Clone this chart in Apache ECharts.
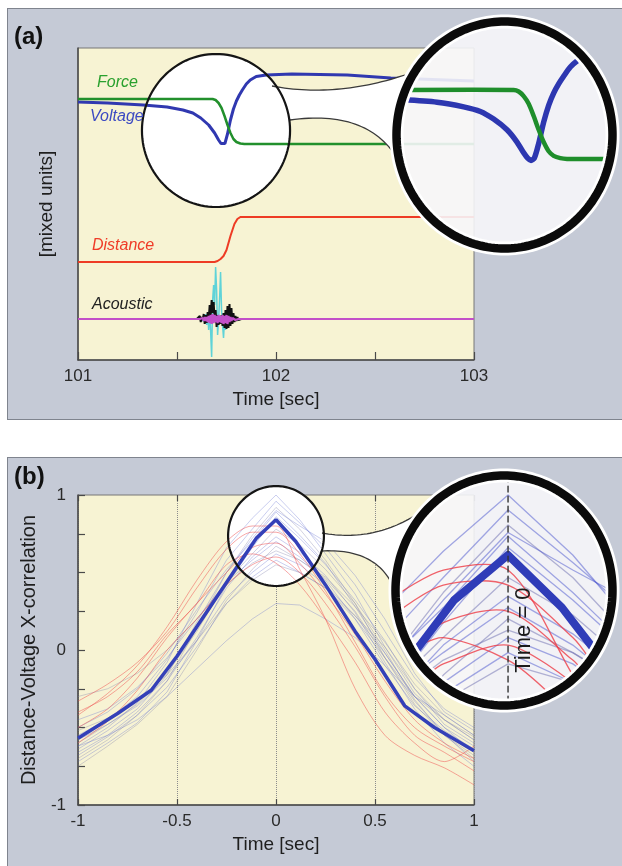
<!DOCTYPE html>
<html><head><meta charset="utf-8">
<script src="https://cdn.jsdelivr.net/npm/echarts@6/dist/echarts.min.js"></script>
<style>
html,body{margin:0;padding:0;background:#fff;width:622px;height:866px;overflow:hidden}
.panel{position:absolute;background:#c5cad6;border:1.5px solid #7f848e;box-sizing:border-box}
#chart{position:absolute;left:0;top:0;width:622px;height:866px}
</style></head><body>
<div class="panel" style="left:7px;top:8px;width:640px;height:412px"></div>
<div class="panel" style="left:7px;top:457px;width:640px;height:440px"></div>
<div id="chart"></div>
<script>
// ---------------- Panel (a) data: time [s] vs mixed units ----------------
const forceT = [101.0, 101.68, 101.695, 101.71, 101.725, 101.74, 101.755, 101.77, 101.785, 101.8, 101.82, 101.84, 103.0];
const forceV = [261, 261, 260, 257, 252, 244, 235, 227, 221, 218, 216.5, 216, 216];

const voltT = [101.0, 101.15, 101.33, 101.45, 101.53, 101.58, 101.62, 101.66, 101.69, 101.71, 101.722, 101.732, 101.742, 101.755, 101.77, 101.785, 101.8, 101.815, 101.83, 101.85, 101.87, 101.9, 101.95, 102.08, 102.36, 102.58, 103.0];
const voltV = [258, 257, 255, 253, 250, 247, 242, 235, 227, 220, 216.5, 215, 216.5, 226, 240, 251, 259, 265, 270, 276, 280, 283.5, 285, 286, 285, 282, 279];

const distT = [101.0, 101.69, 101.705, 101.72, 101.735, 101.75, 101.77, 101.79, 101.805, 101.82, 103.0];
const distV = [98, 98, 99, 101, 104, 110, 124, 136, 141, 143, 143];

const acT = [101.600,101.605,101.610,101.615,101.620,101.625,101.630,101.635,101.640,101.645,101.650,101.655,101.660,101.665,101.670,101.675,101.680,101.685,101.690,101.695,101.700,101.705,101.710,101.715,101.720,101.725,101.730,101.735,101.740,101.745,101.750,101.755,101.760,101.765,101.770,101.775,101.780,101.785,101.790,101.795,101.800,101.805,101.810,101.815,101.820,101.825];
const acBlack = [41,43,39,44,38,43,40,46,36,45,37,48,40,55,44,60,47,58,41,50,33,45,35,44,36,45,34,47,32,50,31,54,32,56,34,52,36,47,38,44,39,43,40,42,40,41];
const acCyan  = [41,41,41,42,40,42,39,44,37,46,35,48,30,50,28,3,60,75,55,93,70,25,40,60,88,50,35,22,40,30,48,33,45,36,44,38,43,39,42,40,42,40,41,41,41,41];
const acPink  = [41,41,41,41,42,40,42,39,43,39,43,38,44,37,45,36,46,37,45,38,44,37,45,38,44,37,45,36,44,37,45,36,44,38,43,39,42,40,42,40,41,41,41,41,41,41];
const acBase = 41;
const aTicks = [101, 102, 103];

// ---------------- Panel (b) data: lag [s] vs correlation ----------------
const bT = [-1,-0.85,-0.7,-0.55,-0.4,-0.25,-0.12,0,0.12,0.25,0.4,0.55,0.7,0.85,1];
const blueRuns = [
  [-0.62,-0.5,-0.34,-0.08,0.3,0.66,0.85,1.0,0.84,0.62,0.36,0.02,-0.28,-0.45,-0.58],
  [-0.55,-0.45,-0.3,-0.06,0.24,0.58,0.78,0.96,0.82,0.66,0.42,0.12,-0.18,-0.38,-0.5],
  [-0.7,-0.58,-0.42,-0.2,0.14,0.5,0.74,0.92,0.78,0.58,0.3,-0.05,-0.35,-0.55,-0.68],
  [-0.5,-0.4,-0.25,-0.02,0.26,0.52,0.7,0.89,0.74,0.56,0.28,-0.02,-0.3,-0.5,-0.62],
  [-0.72,-0.6,-0.47,-0.27,0.06,0.42,0.66,0.86,0.72,0.55,0.32,0.06,-0.25,-0.48,-0.6],
  [-0.6,-0.48,-0.35,-0.15,0.12,0.44,0.62,0.78,0.68,0.52,0.3,0.0,-0.32,-0.55,-0.7],
  [-0.66,-0.55,-0.4,-0.2,0.08,0.4,0.6,0.73,0.63,0.48,0.24,-0.08,-0.38,-0.6,-0.75],
  [-0.45,-0.38,-0.24,-0.05,0.2,0.44,0.58,0.70,0.6,0.45,0.2,-0.1,-0.36,-0.52,-0.64],
  [-0.75,-0.62,-0.48,-0.3,0.0,0.32,0.52,0.67,0.58,0.47,0.28,0.05,-0.22,-0.42,-0.55],
  [-0.58,-0.48,-0.36,-0.18,0.06,0.34,0.5,0.62,0.55,0.42,0.22,-0.02,-0.3,-0.5,-0.66],
  [-0.68,-0.56,-0.42,-0.24,0.02,0.3,0.47,0.58,0.5,0.4,0.2,-0.05,-0.33,-0.54,-0.72],
  [-0.52,-0.44,-0.32,-0.16,0.06,0.3,0.45,0.55,0.5,0.4,0.22,0.02,-0.25,-0.45,-0.58],
  [-0.62,-0.55,-0.45,-0.3,-0.12,0.06,0.2,0.3,0.29,0.2,0.08,-0.1,-0.3,-0.42,-0.55],
  [-0.64,-0.52,-0.38,-0.16,0.18,0.5,0.72,0.9,0.8,0.7,0.48,0.2,-0.15,-0.4,-0.52],
  [-0.3,-0.25,-0.15,0.0,0.2,0.42,0.56,0.64,0.58,0.46,0.25,-0.05,-0.3,-0.45,-0.56]
];
const redRuns = [
  [-0.42,-0.28,-0.1,0.15,0.45,0.70,0.80,0.80,0.52,0.20,-0.25,-0.55,-0.68,-0.76,-0.87],
  [-0.33,-0.22,-0.08,0.12,0.4,0.65,0.76,0.76,0.62,0.38,0.05,-0.28,-0.5,-0.62,-0.72],
  [-0.5,-0.38,-0.18,0.08,0.3,0.5,0.66,0.69,0.56,0.36,0.1,-0.2,-0.45,-0.6,-0.7],
  [-0.6,-0.46,-0.26,0.0,0.2,0.42,0.55,0.6,0.5,0.3,0.02,-0.3,-0.55,-0.66,-0.78],
  [-0.4,-0.3,-0.14,0.1,0.3,0.55,0.62,0.56,0.42,0.2,-0.08,-0.4,-0.6,-0.72,-0.62]
];
const meanT = [-1,-0.8,-0.63,-0.5,-0.4,-0.2,-0.1,0,0.1,0.25,0.4,0.5,0.65,0.8,1];
const meanV = [-0.57,-0.41,-0.26,-0.04,0.15,0.53,0.72,0.84,0.70,0.42,0.12,-0.06,-0.36,-0.50,-0.65];
const bTicks = [-1, -0.5, 0, 0.5, 1];

// magnifier ranges (data space)
const lensA = {tMin:101.323, tMax:102.071, vMin:153, vMax:306};
const zoomA = {tMin:101.315, tMax:101.990, vMin:154.5, vMax:308.7};
const lensB = {tMin:-0.242, tMax:0.242, vMin:0.413, vMax:1.058};
const zoomB = {tMin:-0.217, tMax:0.202, vMin:0.427, vMax:1.064};

// ---------------- helpers ----------------
const FONT = "'Liberation Sans', Arial, Helvetica, sans-serif";
const pairs = (ts, vs) => ts.map((t, i) => [t, vs[i]]);
function ellipsePts(cx, cy, rx, ry, n) {
  const p = [];
  for (let i = 0; i < n; i++) { const a = i / n * Math.PI * 2; p.push([cx + rx * Math.cos(a), cy + ry * Math.sin(a)]); }
  return p;
}
function clipToEllipse(pts, cx, cy, rx, ry) {
  const runs = []; let cur = null;
  for (let i = 0; i < pts.length - 1; i++) {
    const p = pts[i], q = pts[i + 1];
    const pu = (p[0] - cx) / rx, pw = (p[1] - cy) / ry, qu = (q[0] - cx) / rx, qw = (q[1] - cy) / ry;
    const du = qu - pu, dw = qw - pw;
    const a = du * du + dw * dw, b = 2 * (pu * du + pw * dw), c = pu * pu + pw * pw - 1;
    let lo = 1, hi = 0;
    if (a < 1e-12) { if (c <= 0) { lo = 0; hi = 1; } }
    else { const disc = b * b - 4 * a * c; if (disc >= 0) { const s = Math.sqrt(disc); lo = Math.max(0, (-b - s) / (2 * a)); hi = Math.min(1, (-b + s) / (2 * a)); } }
    if (lo >= hi) { if (cur) { runs.push(cur); cur = null; } continue; }
    const A = [p[0] + (q[0] - p[0]) * lo, p[1] + (q[1] - p[1]) * lo];
    const B = [p[0] + (q[0] - p[0]) * hi, p[1] + (q[1] - p[1]) * hi];
    if (!cur || lo > 0) { if (cur) runs.push(cur); cur = [A]; }
    cur.push(B);
    if (hi < 1) { runs.push(cur); cur = null; }
  }
  if (cur) runs.push(cur);
  return runs;
}
function quad(p0, c, p2, n) {
  const r = [];
  for (let i = 0; i <= n; i++) { const s = i / n, u = 1 - s;
    r.push([u*u*p0[0] + 2*u*s*c[0] + s*s*p2[0], u*u*p0[1] + 2*u*s*c[1] + s*s*p2[1]]); }
  return r;
}

// curves shown in the magnifiers
const zoomCurvesA = [
  {t: distT, v: distV, color: '#ee3b24', width: 3},
  {t: voltT, v: voltV, color: '#2d37b0', width: 5.5, smooth: 0.25},
  {t: forceT, v: forceV, color: '#1f8e2b', width: 4.5, smooth: 0.25}
];
const zoomCurvesB = [];
blueRuns.forEach((r, i) => zoomCurvesB.push({t: bT, v: r, color: i % 3 === 2 ? 'rgba(110,110,175,0.5)' : 'rgba(75,85,205,0.5)', width: 1.3}));
redRuns.forEach(r => zoomCurvesB.push({t: bT, v: r, color: 'rgba(238,60,70,0.8)', width: 1.3, smooth: 0.3}));
zoomCurvesB.push({t: meanT, v: meanV, color: '#2f3cb8', width: 8});
zoomCurvesB.push({t: [0, 0], v: [1.3, 0.2], color: '#333', width: 1.4, dash: [6, 4]});
zoomCurvesB.push({text: 'Time = 0', t: 0.03, v: 0.64});

function zoomRenderer(curves) {
  return function (params, api) {
    const c = curves[params.dataIndex];
    const r = params.coordSys;
    const cx = r.x + r.width / 2, cy = r.y + r.height / 2, rx = r.width / 2 - 5, ry = r.height / 2 - 5;
    if (c.text) {
      const p = api.coord([c.t, c.v]);
      return {type: 'text', x: p[0], y: p[1], rotation: Math.PI / 2, silent: true,
        style: {text: c.text, fill: '#1a1a1a', font: '22px ' + FONT, align: 'center', verticalAlign: 'middle'}};
    }
    const pts = c.t.map((t, i) => api.coord([t, c.v[i]]));
    const runs = clipToEllipse(pts, cx, cy, rx, ry);
    return {type: 'group', children: runs.map(run => ({type: 'polyline', silent: true,
      shape: {points: run, smooth: c.smooth || 0},
      style: {stroke: c.color, lineWidth: c.width, fill: null, lineDash: c.dash || null, lineJoin: 'round', lineCap: 'round'}}))};
  };
}
function lensFill(params, api) {
  const r = params.coordSys;
  return {type: 'polygon', silent: true, shape: {points: ellipsePts(r.x + r.width / 2, r.y + r.height / 2, r.width / 2 - 3, r.height / 2 - 3, 160)},
    style: {fill: 'rgba(246,246,249,0.9)'}};
}
function lensRing(params, api) {
  const r = params.coordSys;
  const pts = ellipsePts(r.x + r.width / 2, r.y + r.height / 2, r.width / 2 - 4.5, r.height / 2 - 4.5, 200);
  return {type: 'group', children: [
    {type: 'polygon', silent: true, shape: {points: pts}, style: {fill: 'none', stroke: '#ffffff', lineWidth: 14}},
    {type: 'polygon', silent: true, shape: {points: pts}, style: {fill: 'none', stroke: '#0b0b0b', lineWidth: 8.5}}
  ]};
}
function smallLens(fill) {
  return function (params, api) {
    const p1 = api.coord([api.value(0), api.value(3)]);
    const p2 = api.coord([api.value(2), api.value(1)]);
    const pts = ellipsePts((p1[0] + p2[0]) / 2, (p1[1] + p2[1]) / 2, (p2[0] - p1[0]) / 2, (p2[1] - p1[1]) / 2, 120);
    return {type: 'polygon', silent: true, shape: {points: pts},
      style: fill ? {fill: '#ffffff'} : {fill: 'none', stroke: '#151515', lineWidth: 2.2}};
  };
}

// ---------------- axes ----------------
const labelStyle = {fontSize: 17, color: '#2a2a2a', fontFamily: FONT};
const nameStyle = {fontSize: 19, color: '#1e1e1e', fontFamily: FONT};

const series = [];
// panel (a)
series.push({type: 'custom', xAxisIndex: 0, yAxisIndex: 0, z: 1, renderItem: smallLens(true), data: [[lensA.tMin, lensA.vMin, lensA.tMax, lensA.vMax]]});
series.push({type: 'line', xAxisIndex: 0, yAxisIndex: 0, data: pairs(acT, acCyan), symbol: 'none', lineStyle: {color: '#5fd3d8', width: 1.5}, z: 2});
series.push({type: 'line', xAxisIndex: 0, yAxisIndex: 0, data: pairs(acT, acBlack), symbol: 'none', lineStyle: {color: '#111', width: 2}, z: 2});
series.push({type: 'line', xAxisIndex: 0, yAxisIndex: 0, data: [[101, acBase]].concat(pairs(acT, acPink), [[103, acBase]]), symbol: 'none', lineStyle: {color: '#c24fc8', width: 2.2}, z: 2});
series.push({type: 'line', xAxisIndex: 0, yAxisIndex: 0, data: pairs(distT, distV), symbol: 'none', lineStyle: {color: '#ee3b24', width: 2}, z: 2});
series.push({type: 'line', xAxisIndex: 0, yAxisIndex: 0, data: pairs(voltT, voltV), symbol: 'none', lineStyle: {color: '#3038b0', width: 3}, z: 2});
series.push({type: 'line', xAxisIndex: 0, yAxisIndex: 0, data: pairs(forceT, forceV), symbol: 'none', lineStyle: {color: '#22902c', width: 2.5}, z: 2});
series.push({type: 'custom', xAxisIndex: 0, yAxisIndex: 0, z: 3, renderItem: smallLens(false), data: [[lensA.tMin, lensA.vMin, lensA.tMax, lensA.vMax]]});
series.push({type: 'custom', xAxisIndex: 1, yAxisIndex: 1, z: 4, renderItem: lensFill, data: [[zoomA.tMin, zoomA.vMin]]});
series.push({type: 'custom', xAxisIndex: 1, yAxisIndex: 1, z: 5, renderItem: zoomRenderer(zoomCurvesA), data: zoomCurvesA.map(() => [zoomA.tMin, zoomA.vMin])});
series.push({type: 'custom', xAxisIndex: 1, yAxisIndex: 1, z: 6, renderItem: lensRing, data: [[zoomA.tMin, zoomA.vMin]]});
// panel (b)
series.push({type: 'custom', xAxisIndex: 2, yAxisIndex: 2, z: 1, renderItem: smallLens(true), data: [[lensB.tMin, lensB.vMin, lensB.tMax, lensB.vMax]]});
blueRuns.forEach((r, i) => series.push({type: 'line', xAxisIndex: 2, yAxisIndex: 2, data: pairs(bT, r), symbol: 'none', z: 2,
  lineStyle: {color: i % 3 === 2 ? 'rgba(125,125,170,0.35)' : 'rgba(95,105,205,0.33)', width: 1}}));
redRuns.forEach(r => series.push({type: 'line', xAxisIndex: 2, yAxisIndex: 2, data: pairs(bT, r), symbol: 'none', z: 2, smooth: 0.3,
  lineStyle: {color: 'rgba(240,80,80,0.5)', width: 1}}));
series.push({type: 'line', xAxisIndex: 2, yAxisIndex: 2, data: pairs(meanT, meanV), symbol: 'none', z: 2, lineStyle: {color: '#3440b8', width: 3.5}});
series.push({type: 'custom', xAxisIndex: 2, yAxisIndex: 2, z: 3, renderItem: smallLens(false), data: [[lensB.tMin, lensB.vMin, lensB.tMax, lensB.vMax]]});
series.push({type: 'custom', xAxisIndex: 3, yAxisIndex: 3, z: 4, renderItem: lensFill, data: [[zoomB.tMin, zoomB.vMin]]});
series.push({type: 'custom', xAxisIndex: 3, yAxisIndex: 3, z: 5, renderItem: zoomRenderer(zoomCurvesB), data: zoomCurvesB.map(() => [zoomB.tMin, zoomB.vMin])});
series.push({type: 'custom', xAxisIndex: 3, yAxisIndex: 3, z: 6, renderItem: lensRing, data: [[zoomB.tMin, zoomB.vMin]]});

// connectors (funnels) between small and big lenses
const upA = quad([272, 86], [335, 98], [405, 75], 30), loA = quad([290, 120], [362, 110], [393, 152], 30);
const upB = quad([322, 533], [372, 542], [414, 516], 30), loB = quad([321, 551], [374, 548], [392, 584], 30);
const funnel = (u, l) => u.concat(l.slice().reverse());
const conStyle = {stroke: '#3a3a3a', lineWidth: 1.3, fill: 'none'};

const option = {
  animation: false,
  backgroundColor: 'transparent',
  grid: [
    {left: 78, top: 48, width: 396, height: 312, show: true, backgroundColor: '#f7f3d3', borderColor: '#777', borderWidth: 1, outerBoundsMode: 'none'},
    {left: 392, top: 17, width: 225, height: 236, show: false, outerBoundsMode: 'none'},
    {left: 78, top: 495, width: 396, height: 310, show: true, backgroundColor: '#f7f3d3', borderColor: '#777', borderWidth: 1, outerBoundsMode: 'none'},
    {left: 391, top: 471, width: 226, height: 239, show: false, outerBoundsMode: 'none'}
  ],
  xAxis: [
    {gridIndex: 0, type: 'value', min: 101, max: 103, interval: 0.5,
      axisLine: {show: true, onZero: false, lineStyle: {color: '#4a4a4a', width: 1.5}},
      axisTick: {show: true, inside: true, length: 8, lineStyle: {color: '#4a4a4a', width: 1.2}},
      axisLabel: Object.assign({margin: 8, formatter: v => aTicks.indexOf(v) >= 0 ? String(v) : ''}, labelStyle),
      splitLine: {show: false},
      name: 'Time [sec]', nameLocation: 'middle', nameGap: 30, nameTextStyle: nameStyle},
    {gridIndex: 1, type: 'value', min: zoomA.tMin, max: zoomA.tMax, show: false},
    {gridIndex: 2, type: 'value', min: -1, max: 1, interval: 0.5,
      axisLine: {show: true, onZero: false, lineStyle: {color: '#4a4a4a', width: 1.5}},
      axisTick: {show: true, inside: true, length: 6, lineStyle: {color: '#4a4a4a', width: 1.2}},
      axisLabel: Object.assign({margin: 8, formatter: v => bTicks.indexOf(v) >= 0 ? String(v) : ''}, labelStyle),
      splitLine: {show: true, lineStyle: {type: 'dotted', color: '#8c8c8c', width: 1}},
      name: 'Time [sec]', nameLocation: 'middle', nameGap: 30, nameTextStyle: nameStyle},
    {gridIndex: 3, type: 'value', min: zoomB.tMin, max: zoomB.tMax, show: false},
    {gridIndex: 2, type: 'value', position: 'top', min: -1, max: 1, interval: 0.5,
      axisLine: {show: false, onZero: false}, axisLabel: {show: false}, splitLine: {show: false},
      axisTick: {show: true, inside: true, length: 6, lineStyle: {color: '#4a4a4a', width: 1.2}}}
  ],
  yAxis: [
    {gridIndex: 0, type: 'value', min: 0, max: 312,
      axisLine: {show: true, onZero: false, lineStyle: {color: '#4a4a4a', width: 1.5}},
      axisTick: {show: false}, axisLabel: {show: false}, splitLine: {show: false},
      name: '[mixed units]', nameLocation: 'middle', nameGap: 22, nameTextStyle: nameStyle},
    {gridIndex: 1, type: 'value', min: zoomA.vMin, max: zoomA.vMax, show: false},
    {gridIndex: 2, type: 'value', min: -1, max: 1, interval: 0.25,
      axisLine: {show: true, onZero: false, lineStyle: {color: '#4a4a4a', width: 1.5}},
      axisTick: {show: true, inside: true, length: 7, lineStyle: {color: '#4a4a4a', width: 1.2}},
      axisLabel: Object.assign({margin: 12, formatter: v => (v === 1 || v === 0 || v === -1) ? String(v) : ''}, labelStyle),
      splitLine: {show: false},
      name: 'Distance-Voltage X-correlation', nameLocation: 'middle', nameGap: 33,
      nameTextStyle: Object.assign({}, nameStyle, {fontSize: 20})},
    {gridIndex: 3, type: 'value', min: zoomB.vMin, max: zoomB.vMax, show: false}
  ],
  graphic: [
    {type: 'polygon', z: 3, silent: true, shape: {points: funnel(upA, loA)}, style: {fill: '#ffffff'}},
    {type: 'polyline', z: 3, silent: true, shape: {points: upA}, style: conStyle},
    {type: 'polyline', z: 3, silent: true, shape: {points: loA}, style: conStyle},
    {type: 'polygon', z: 3, silent: true, shape: {points: funnel(upB, loB)}, style: {fill: '#ffffff'}},
    {type: 'polyline', z: 3, silent: true, shape: {points: upB}, style: conStyle},
    {type: 'polyline', z: 3, silent: true, shape: {points: loB}, style: conStyle},
    {type: 'text', z: 7, left: 14, top: 25, style: {text: '(a)', font: 'bold 24px ' + FONT, fill: '#111'}},
    {type: 'text', z: 7, left: 14, top: 465, style: {text: '(b)', font: 'bold 24px ' + FONT, fill: '#111'}},
    {type: 'text', z: 7, left: 97, top: 75, style: {text: 'Force', font: 'italic 16px ' + FONT, fill: '#2aa02e'}},
    {type: 'text', z: 7, left: 90, top: 109, style: {text: 'Voltage', font: 'italic 16px ' + FONT, fill: '#3c4ac2'}},
    {type: 'text', z: 7, left: 92, top: 238, style: {text: 'Distance', font: 'italic 16px ' + FONT, fill: '#ef3b27'}},
    {type: 'text', z: 7, left: 92, top: 297, style: {text: 'Acoustic', font: 'italic 16px ' + FONT, fill: '#222'}}
  ],
  series: series
};
const chart = echarts.init(document.getElementById('chart'), null, {renderer: 'canvas', width: 622, height: 866});
chart.setOption(option);
</script></body></html>
